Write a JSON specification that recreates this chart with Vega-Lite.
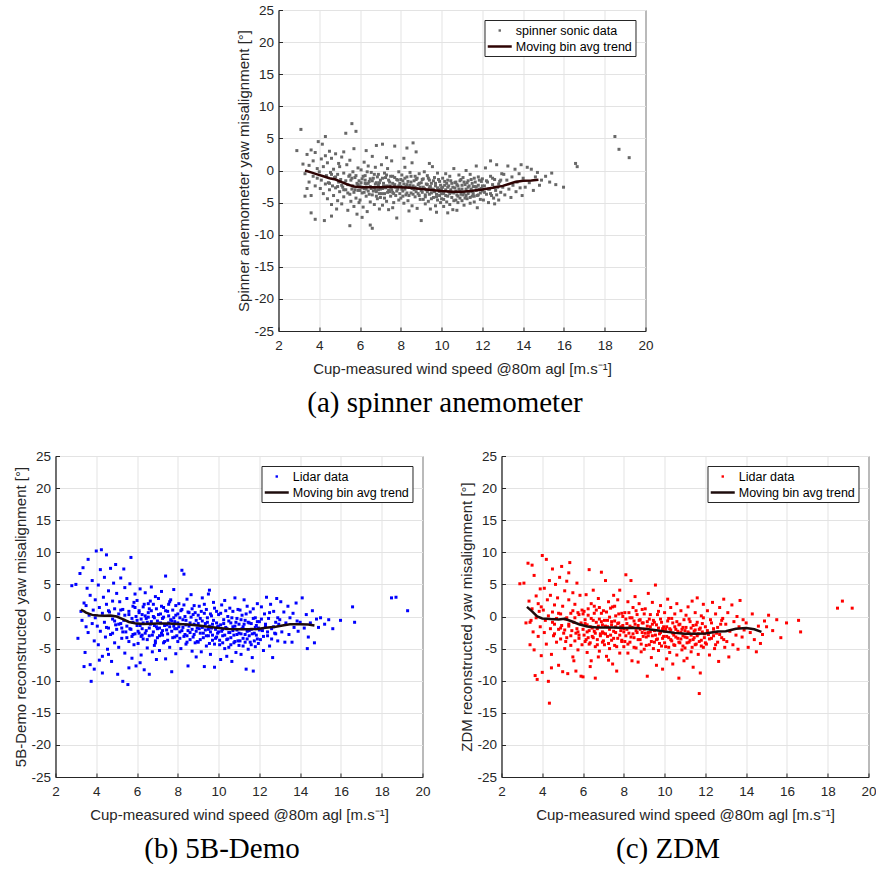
{
"$schema":"https://vega.github.io/schema/vega-lite/v6.json",
"padding":{"left":13,"top":2,"right":0,"bottom":0},
"background":"white",
"datasets":{
"a":[{"x":3.1,"y":6.4},{"x":2.9,"y":3.1},{"x":3.2,"y":1.0},{"x":3.3,"y":-0.5},{"x":3.4,"y":2.5},{"x":3.5,"y":-1.8},{"x":3.5,"y":0.8},{"x":3.6,"y":3.2},{"x":3.6,"y":-3.9},{"x":3.7,"y":1.5},{"x":3.7,"y":-0.9},{"x":3.8,"y":2.8},{"x":3.8,"y":-2.4},{"x":3.9,"y":0.3},{"x":3.9,"y":-1.2},{"x":3.95,"y":4.5},{"x":3.3,"y":-4.0},{"x":3.6,"y":-6.6},{"x":3.8,"y":-7.6},{"x":3.4,"y":-2.8},
{"x":4.0,"y":-0.2},{"x":4.05,"y":-2.8},{"x":4.1,"y":1.8},{"x":4.1,"y":-1.5},{"x":4.15,"y":4.1},{"x":4.2,"y":-3.6},{"x":4.2,"y":0.6},{"x":4.25,"y":-7.8},{"x":4.3,"y":-2.1},{"x":4.3,"y":2.3},{"x":4.35,"y":-0.8},{"x":4.4,"y":-4.4},{"x":4.4,"y":1.2},{"x":4.45,"y":-1.9},{"x":4.5,"y":3.0},{"x":4.5,"y":-3.0},{"x":4.55,"y":-0.3},{"x":4.6,"y":-5.3},{"x":4.6,"y":1.9},{"x":4.65,"y":-2.4},{"x":4.7,"y":0.2},{"x":4.7,"y":-3.9},{"x":4.75,"y":-1.1},{"x":4.8,"y":2.6},{"x":4.8,"y":-2.7},{"x":4.85,"y":-6.0},{"x":4.9,"y":-0.6},{"x":4.9,"y":-4.7},{"x":4.95,"y":1.1},{"x":4.95,"y":-1.8},{"x":4.3,"y":5.3},{"x":4.6,"y":-7.1},
{"x":5.0,"y":-3.3},{"x":5.0,"y":0.6},{"x":5.05,"y":-1.4},{"x":5.1,"y":-5.2},{"x":5.1,"y":2.1},{"x":5.15,"y":-2.6},{"x":5.2,"y":-0.4},{"x":5.2,"y":-4.1},{"x":5.25,"y":-1.9},{"x":5.3,"y":5.8},{"x":5.3,"y":-3.0},{"x":5.35,"y":0.9},{"x":5.4,"y":-6.2},{"x":5.4,"y":-2.2},{"x":5.45,"y":-0.9},{"x":5.5,"y":-3.7},{"x":5.5,"y":1.6},{"x":5.55,"y":-4.8},{"x":5.55,"y":-1.5},{"x":5.6,"y":7.3},{"x":5.6,"y":-2.9},{"x":5.65,"y":-0.2},{"x":5.7,"y":-5.6},{"x":5.7,"y":-3.4},{"x":5.75,"y":-1.1},{"x":5.8,"y":6.1},{"x":5.8,"y":-4.3},{"x":5.85,"y":-2.0},{"x":5.9,"y":0.4},{"x":5.9,"y":-3.1},{"x":5.95,"y":-5.0},{"x":5.95,"y":-1.6},{"x":5.2,"y":2.9},{"x":5.5,"y":-8.6},{"x":5.7,"y":3.4},{"x":5.85,"y":-6.8},
{"x":6.0,"y":-2.4},{"x":6.0,"y":-4.6},{"x":6.05,"y":0.1},{"x":6.1,"y":-3.5},{"x":6.1,"y":-1.3},{"x":6.15,"y":-5.7},{"x":6.2,"y":-2.8},{"x":6.2,"y":1.3},{"x":6.25,"y":-0.8},{"x":6.3,"y":-4.0},{"x":6.3,"y":-2.1},{"x":6.35,"y":-6.4},{"x":6.4,"y":-3.2},{"x":6.4,"y":0.7},{"x":6.45,"y":-1.7},{"x":6.5,"y":-4.9},{"x":6.5,"y":-2.5},{"x":6.55,"y":-0.3},{"x":6.6,"y":-3.8},{"x":6.6,"y":-9.0},{"x":6.65,"y":-1.2},{"x":6.7,"y":-5.3},{"x":6.7,"y":-2.7},{"x":6.75,"y":0.5},{"x":6.8,"y":-3.3},{"x":6.8,"y":-1.9},{"x":6.85,"y":-4.4},{"x":6.9,"y":-0.6},{"x":6.9,"y":-2.3},{"x":6.95,"y":-6.0},{"x":6.95,"y":-3.6},{"x":6.3,"y":3.1},{"x":6.6,"y":2.2},{"x":6.8,"y":3.9},{"x":6.1,"y":-7.3},{"x":6.5,"y":-8.5},{"x":6.75,"y":-3.0},{"x":6.25,"y":-2.0},
{"x":7.0,"y":-1.5},{"x":7.0,"y":-4.2},{"x":7.05,"y":0.9},{"x":7.1,"y":-2.8},{"x":7.1,"y":-5.4},{"x":7.15,"y":-2.0},{"x":7.2,"y":-3.6},{"x":7.2,"y":-0.4},{"x":7.25,"y":-1.1},{"x":7.3,"y":-4.8},{"x":7.3,"y":-2.4},{"x":7.35,"y":0.3},{"x":7.4,"y":-3.1},{"x":7.4,"y":-6.1},{"x":7.45,"y":-1.8},{"x":7.5,"y":-2.6},{"x":7.5,"y":-4.0},{"x":7.55,"y":1.5},{"x":7.6,"y":-3.4},{"x":7.6,"y":-0.9},{"x":7.65,"y":-5.0},{"x":7.7,"y":-2.2},{"x":7.7,"y":3.8},{"x":7.75,"y":-3.9},{"x":7.8,"y":-1.4},{"x":7.8,"y":-7.4},{"x":7.85,"y":-2.9},{"x":7.9,"y":-0.2},{"x":7.9,"y":-4.6},{"x":7.95,"y":-2.0},{"x":7.3,"y":2.0},{"x":7.6,"y":-5.8},{"x":7.1,"y":4.1},{"x":7.45,"y":-3.3},
{"x":8.0,"y":-2.5},{"x":8.0,"y":-4.3},{"x":8.05,"y":-0.7},{"x":8.1,"y":-3.2},{"x":8.1,"y":-1.6},{"x":8.15,"y":-5.1},{"x":8.2,"y":-2.9},{"x":8.2,"y":0.5},{"x":8.25,"y":-3.8},{"x":8.3,"y":-1.0},{"x":8.3,"y":-2.2},{"x":8.35,"y":-4.7},{"x":8.4,"y":-6.3},{"x":8.4,"y":-2.6},{"x":8.45,"y":-0.3},{"x":8.5,"y":-3.5},{"x":8.5,"y":-1.8},{"x":8.55,"y":-5.5},{"x":8.6,"y":-2.4},{"x":8.6,"y":4.3},{"x":8.65,"y":-3.0},{"x":8.7,"y":-0.9},{"x":8.7,"y":-4.1},{"x":8.75,"y":-1.4},{"x":8.8,"y":-2.8},{"x":8.8,"y":-5.9},{"x":8.85,"y":-3.6},{"x":8.9,"y":-0.5},{"x":8.9,"y":-2.0},{"x":8.95,"y":-4.5},{"x":8.3,"y":3.5},{"x":8.55,"y":1.2},{"x":8.75,"y":2.9},{"x":8.15,"y":1.9},
{"x":9.0,"y":-3.1},{"x":9.0,"y":-7.8},{"x":9.05,"y":-1.4},{"x":9.1,"y":-4.5},{"x":9.1,"y":-2.6},{"x":9.15,"y":-0.2},{"x":9.2,"y":-3.8},{"x":9.2,"y":-5.2},{"x":9.25,"y":-2.1},{"x":9.3,"y":-3.3},{"x":9.3,"y":-0.8},{"x":9.35,"y":-4.8},{"x":9.4,"y":-2.7},{"x":9.4,"y":-1.5},{"x":9.45,"y":-6.0},{"x":9.5,"y":-3.5},{"x":9.5,"y":-2.0},{"x":9.55,"y":0.6},{"x":9.6,"y":-4.2},{"x":9.6,"y":-3.0},{"x":9.65,"y":-1.1},{"x":9.7,"y":-5.5},{"x":9.7,"y":-2.4},{"x":9.75,"y":-3.7},{"x":9.8,"y":-0.4},{"x":9.8,"y":-4.6},{"x":9.85,"y":-2.9},{"x":9.9,"y":-1.7},{"x":9.9,"y":-3.9},{"x":9.95,"y":-5.0},{"x":9.4,"y":1.1},{"x":9.75,"y":-6.5},
{"x":10.0,"y":-2.8},{"x":10.0,"y":-4.4},{"x":10.05,"y":-1.2},{"x":10.1,"y":-3.6},{"x":10.1,"y":-5.6},{"x":10.15,"y":-2.3},{"x":10.2,"y":-0.5},{"x":10.2,"y":-3.9},{"x":10.25,"y":-4.9},{"x":10.3,"y":-2.6},{"x":10.3,"y":-1.5},{"x":10.35,"y":-3.3},{"x":10.4,"y":-5.3},{"x":10.4,"y":-0.9},{"x":10.45,"y":-3.0},{"x":10.5,"y":-4.2},{"x":10.5,"y":-2.0},{"x":10.55,"y":-6.1},{"x":10.6,"y":-3.5},{"x":10.6,"y":0.3},{"x":10.65,"y":-2.7},{"x":10.7,"y":-4.6},{"x":10.7,"y":-1.8},{"x":10.75,"y":-3.8},{"x":10.8,"y":-5.0},{"x":10.8,"y":-2.4},{"x":10.85,"y":-0.7},{"x":10.9,"y":-3.2},{"x":10.9,"y":-4.3},{"x":10.95,"y":-1.4},{"x":10.3,"y":-6.6},{"x":10.75,"y":-6.2},
{"x":11.0,"y":-2.9},{"x":11.0,"y":-4.7},{"x":11.05,"y":-1.1},{"x":11.1,"y":-3.5},{"x":11.1,"y":-5.4},{"x":11.15,"y":-2.2},{"x":11.2,"y":0.0},{"x":11.2,"y":-3.9},{"x":11.25,"y":-4.4},{"x":11.3,"y":-2.6},{"x":11.3,"y":-1.6},{"x":11.35,"y":-3.3},{"x":11.4,"y":-5.1},{"x":11.4,"y":-0.6},{"x":11.45,"y":-2.9},{"x":11.5,"y":-4.0},{"x":11.5,"y":-2.0},{"x":11.55,"y":-3.6},{"x":11.6,"y":-1.2},{"x":11.6,"y":-4.9},{"x":11.65,"y":-2.5},{"x":11.7,"y":0.7},{"x":11.7,"y":-3.1},{"x":11.75,"y":-5.8},{"x":11.8,"y":-2.3},{"x":11.8,"y":-3.8},{"x":11.85,"y":-1.5},{"x":11.9,"y":-4.5},{"x":11.95,"y":-2.8},
{"x":12.0,"y":-3.2},{"x":12.0,"y":-1.3},{"x":12.05,"y":-4.6},{"x":12.1,"y":-2.4},{"x":12.15,"y":0.4},{"x":12.2,"y":-3.7},{"x":12.25,"y":-1.8},{"x":12.3,"y":-5.0},{"x":12.35,"y":-2.9},{"x":12.4,"y":-0.9},{"x":12.45,"y":-3.9},{"x":12.5,"y":-2.2},{"x":12.55,"y":-4.3},{"x":12.6,"y":-1.4},{"x":12.65,"y":-3.1},{"x":12.7,"y":0.9},{"x":12.75,"y":-2.6},{"x":12.8,"y":-4.6},{"x":12.85,"y":-1.7},{"x":12.9,"y":-3.4},{"x":12.95,"y":-0.5},{"x":12.4,"y":1.5},{"x":12.6,"y":-5.2},
{"x":13.0,"y":-2.6},{"x":13.05,"y":-0.6},{"x":13.1,"y":-3.8},{"x":13.2,"y":-1.5},{"x":13.25,"y":0.7},{"x":13.3,"y":-2.9},{"x":13.4,"y":-4.2},{"x":13.45,"y":-1.0},{"x":13.5,"y":-2.3},{"x":13.6,"y":0.2},{"x":13.65,"y":-3.3},{"x":13.7,"y":-1.8},{"x":13.8,"y":-0.5},{"x":13.85,"y":-2.7},{"x":13.9,"y":0.9},{"x":13.95,"y":-3.9},
{"x":14.0,"y":-1.2},{"x":14.1,"y":-2.6},{"x":14.2,"y":0.5},{"x":14.3,"y":-1.9},{"x":14.4,"y":0.2},{"x":14.5,"y":-3.1},{"x":14.6,"y":-1.0},{"x":14.7,"y":-0.3},{"x":14.8,"y":-2.3},{"x":14.9,"y":-1.5},
{"x":15.1,"y":-0.9},{"x":15.3,"y":-1.8},{"x":15.4,"y":-0.4},{"x":15.6,"y":-2.2},{"x":15.98,"y":-2.6},{"x":16.57,"y":1.1},{"x":16.65,"y":0.6},{"x":18.5,"y":5.3},{"x":18.7,"y":3.3},{"x":19.2,"y":2.0},
{"x":5.6,"y":-1.2},{"x":5.65,"y":-2.4},{"x":5.75,"y":-3.0},{"x":5.8,"y":-0.8},{"x":5.9,"y":-2.2},{"x":6.0,"y":-3.1},{"x":6.05,"y":-1.9},{"x":6.1,"y":-2.6},{"x":6.15,"y":-0.9},{"x":6.2,"y":-3.4},{"x":6.25,"y":-1.5},{"x":6.3,"y":-2.9},{"x":6.35,"y":-0.2},{"x":6.4,"y":-2.0},{"x":6.45,"y":-3.7},{"x":6.5,"y":-1.3},{"x":6.55,"y":-2.8},{"x":6.6,"y":-1.6},{"x":6.65,"y":-3.2},{"x":6.7,"y":-0.6},{"x":6.75,"y":-2.1},{"x":6.8,"y":-4.0},{"x":6.85,"y":-1.0},{"x":6.9,"y":-3.0},{"x":6.95,"y":-1.9},{"x":7.0,"y":-2.9},{"x":7.05,"y":-3.6},{"x":7.1,"y":-1.2},{"x":7.15,"y":-2.5},{"x":7.2,"y":-4.3},{"x":7.25,"y":-2.7},{"x":7.3,"y":-0.7},{"x":7.35,"y":-3.4},{"x":7.4,"y":-1.5},{"x":7.45,"y":-2.4},{"x":7.5,"y":-0.9},{"x":7.55,"y":-3.0},{"x":7.6,"y":-2.0},{"x":7.65,"y":-3.6},{"x":7.7,"y":-1.1},{"x":7.75,"y":-2.6},{"x":7.8,"y":-3.2},{"x":7.85,"y":-1.5},{"x":7.9,"y":-2.4},{"x":7.95,"y":-3.6},{"x":8.0,"y":-1.4},{"x":8.05,"y":-2.9},{"x":8.1,"y":-4.0},{"x":8.15,"y":-2.1},{"x":8.2,"y":-1.2},{"x":8.25,"y":-2.5},{"x":8.3,"y":-3.5},{"x":8.35,"y":-1.7},{"x":8.4,"y":-3.9},{"x":8.45,"y":-2.3},{"x":8.5,"y":-0.9},{"x":8.55,"y":-2.8},{"x":8.6,"y":-3.7},{"x":8.65,"y":-1.6},{"x":8.7,"y":-2.6},{"x":8.75,"y":-3.3},{"x":8.8,"y":-1.2},{"x":8.85,"y":-2.2},{"x":8.9,"y":-3.9},{"x":8.95,"y":-2.6},{"x":9.0,"y":-1.9},{"x":9.05,"y":-3.4},{"x":9.1,"y":-1.3},{"x":9.15,"y":-2.8},{"x":9.2,"y":-4.1},{"x":9.25,"y":-3.0},{"x":9.3,"y":-2.2},{"x":9.35,"y":-1.2},{"x":9.4,"y":-3.7},{"x":9.45,"y":-2.5},{"x":9.5,"y":-4.4},{"x":9.55,"y":-2.9},{"x":9.6,"y":-1.6},{"x":9.65,"y":-3.3},{"x":9.7,"y":-2.0},{"x":9.75,"y":-4.1},{"x":9.8,"y":-2.7},{"x":9.85,"y":-1.4},{"x":9.9,"y":-3.3},{"x":9.95,"y":-2.3},{"x":10.0,"y":-3.6},{"x":10.05,"y":-2.6},{"x":10.1,"y":-4.5},{"x":10.15,"y":-1.7},{"x":10.2,"y":-3.0},{"x":10.25,"y":-2.0},{"x":10.3,"y":-4.0},{"x":10.35,"y":-2.4},{"x":10.4,"y":-3.6},{"x":10.45,"y":-1.6},{"x":10.5,"y":-3.4},{"x":10.55,"y":-2.6},{"x":10.6,"y":-4.7},{"x":10.65,"y":-1.9},{"x":10.7,"y":-3.2},{"x":10.75,"y":-2.2},{"x":10.8,"y":-4.0},{"x":10.85,"y":-2.9},{"x":10.9,"y":-1.6},{"x":10.95,"y":-3.7},{"x":11.0,"y":-2.3},{"x":11.05,"y":-3.8},{"x":11.1,"y":-1.8},{"x":11.15,"y":-4.3},{"x":11.2,"y":-2.9},{"x":11.25,"y":-1.9},{"x":11.3,"y":-3.6},{"x":11.35,"y":-2.4},{"x":11.4,"y":-4.2},{"x":11.45,"y":-1.4},{"x":11.5,"y":-3.3},{"x":11.55,"y":-2.5},{"x":11.6,"y":-4.0},{"x":11.65,"y":-1.8},{"x":11.7,"y":-2.6},{"x":11.75,"y":-3.9},{"x":11.8,"y":-1.0},{"x":11.85,"y":-2.9},{"x":11.9,"y":-3.5},{"x":11.95,"y":-1.7},{"x":12.0,"y":-2.4},{"x":12.1,"y":-3.4},{"x":12.2,"y":-1.6},{"x":12.3,"y":-2.9},{"x":12.4,"y":-3.6},{"x":12.5,"y":-1.2},{"x":12.6,"y":-2.6},{"x":12.7,"y":-3.8},{"x":12.8,"y":-2.1},{"x":12.9,"y":-1.5},{"x":5.3,"y":-1.6},{"x":5.4,"y":-3.5},{"x":5.5,"y":-0.7},{"x":5.1,"y":-2.3},{"x":5.2,"y":-3.0},{"x":4.9,"y":-2.5},{"x":4.8,"y":-1.0},{"x":4.6,"y":-0.6},{"x":4.5,"y":-2.0}],
"at":[{"x":3.3,"y":0.0},{"x":3.6,"y":-0.3},{"x":3.9,"y":-0.6},{"x":4.2,"y":-0.9},{"x":4.5,"y":-1.2},{"x":4.8,"y":-1.4},{"x":5.1,"y":-1.8},{"x":5.4,"y":-2.2},{"x":5.7,"y":-2.5},{"x":6.0,"y":-2.6},{"x":6.5,"y":-2.6},{"x":7.0,"y":-2.6},{"x":7.5,"y":-2.55},{"x":8.0,"y":-2.6},{"x":8.5,"y":-2.7},{"x":9.0,"y":-2.9},{"x":9.5,"y":-3.05},{"x":10.0,"y":-3.2},{"x":10.5,"y":-3.3},{"x":11.0,"y":-3.3},{"x":11.5,"y":-3.15},{"x":12.0,"y":-2.95},{"x":12.5,"y":-2.7},{"x":13.0,"y":-2.4},{"x":13.3,"y":-2.1},{"x":13.6,"y":-1.8},{"x":14.0,"y":-1.6},{"x":14.4,"y":-1.55},{"x":14.75,"y":-1.45}],
"b":[{"x":2.8,"y":4.8},{"x":3.0,"y":5.0},{"x":3.1,"y":-3.4},{"x":3.2,"y":6.7},{"x":3.25,"y":0.8},{"x":3.3,"y":-0.6},{"x":3.35,"y":7.6},{"x":3.4,"y":2.1},{"x":3.45,"y":-5.6},{"x":3.5,"y":-1.6},{"x":3.5,"y":1.7},{"x":3.55,"y":4.4},{"x":3.6,"y":-2.5},{"x":3.6,"y":8.9},{"x":3.65,"y":0.2},{"x":3.7,"y":-7.5},{"x":3.7,"y":3.3},{"x":3.75,"y":-10.1},{"x":3.8,"y":-1.1},{"x":3.8,"y":5.6},{"x":3.85,"y":1.0},{"x":3.9,"y":-3.8},{"x":3.9,"y":-8.2},{"x":3.95,"y":2.6},{"x":3.95,"y":-0.2},{"x":3.4,"y":-7.8},
{"x":4.0,"y":10.2},{"x":4.05,"y":-1.5},{"x":4.1,"y":4.9},{"x":4.1,"y":-4.4},{"x":4.15,"y":1.4},{"x":4.2,"y":7.3},{"x":4.2,"y":-2.3},{"x":4.25,"y":10.4},{"x":4.3,"y":0.5},{"x":4.3,"y":-6.2},{"x":4.35,"y":3.0},{"x":4.4,"y":-0.9},{"x":4.4,"y":6.1},{"x":4.45,"y":-3.2},{"x":4.5,"y":1.9},{"x":4.5,"y":9.6},{"x":4.55,"y":-5.1},{"x":4.6,"y":-1.8},{"x":4.6,"y":4.0},{"x":4.65,"y":0.7},{"x":4.7,"y":7.5},{"x":4.7,"y":-2.8},{"x":4.75,"y":-7.0},{"x":4.8,"y":2.4},{"x":4.8,"y":-0.4},{"x":4.85,"y":5.2},{"x":4.9,"y":-4.1},{"x":4.9,"y":1.2},{"x":4.95,"y":-1.3},{"x":4.95,"y":8.1},{"x":4.3,"y":-8.8},{"x":4.6,"y":-5.9},{"x":4.15,"y":-6.8},
{"x":5.0,"y":3.6},{"x":5.0,"y":-2.0},{"x":5.05,"y":-9.0},{"x":5.1,"y":0.4},{"x":5.1,"y":-4.8},{"x":5.15,"y":2.3},{"x":5.2,"y":-1.1},{"x":5.2,"y":6.0},{"x":5.25,"y":-3.4},{"x":5.3,"y":-10.1},{"x":5.3,"y":1.1},{"x":5.35,"y":-0.6},{"x":5.4,"y":4.5},{"x":5.4,"y":-5.7},{"x":5.45,"y":-2.4},{"x":5.5,"y":2.8},{"x":5.5,"y":-1.5},{"x":5.55,"y":-10.6},{"x":5.6,"y":0.3},{"x":5.6,"y":-3.9},{"x":5.65,"y":5.1},{"x":5.7,"y":-2.0},{"x":5.7,"y":9.2},{"x":5.75,"y":-6.5},{"x":5.8,"y":1.6},{"x":5.8,"y":-0.9},{"x":5.85,"y":-4.4},{"x":5.9,"y":3.5},{"x":5.9,"y":-2.7},{"x":5.95,"y":0.0},{"x":5.95,"y":-7.7},{"x":5.35,"y":7.4},{"x":5.6,"y":-8.0},{"x":5.85,"y":2.2},{"x":5.25,"y":-1.8},{"x":5.75,"y":-3.1},
{"x":6.0,"y":-1.4},{"x":6.0,"y":2.5},{"x":6.05,"y":-4.2},{"x":6.1,"y":0.6},{"x":6.1,"y":-2.6},{"x":6.15,"y":4.3},{"x":6.2,"y":-0.4},{"x":6.2,"y":-6.0},{"x":6.25,"y":-1.9},{"x":6.3,"y":1.5},{"x":6.3,"y":-3.5},{"x":6.35,"y":-8.3},{"x":6.4,"y":0.1},{"x":6.4,"y":3.7},{"x":6.45,"y":-2.2},{"x":6.5,"y":-4.9},{"x":6.5,"y":-0.9},{"x":6.55,"y":2.0},{"x":6.6,"y":-3.0},{"x":6.6,"y":-9.0},{"x":6.65,"y":-1.2},{"x":6.7,"y":4.6},{"x":6.7,"y":0.9},{"x":6.75,"y":-5.5},{"x":6.8,"y":-2.4},{"x":6.8,"y":1.9},{"x":6.85,"y":-0.2},{"x":6.9,"y":-3.8},{"x":6.9,"y":3.1},{"x":6.95,"y":-1.6},{"x":6.95,"y":-6.7},{"x":6.25,"y":-2.9},{"x":6.55,"y":-0.1},{"x":6.85,"y":-4.5},{"x":6.15,"y":-7.2},{"x":6.6,"y":1.2},
{"x":7.0,"y":-0.7},{"x":7.0,"y":-3.3},{"x":7.05,"y":2.8},{"x":7.1,"y":-1.8},{"x":7.1,"y":-5.3},{"x":7.15,"y":0.4},{"x":7.2,"y":-2.6},{"x":7.2,"y":3.9},{"x":7.25,"y":-0.3},{"x":7.3,"y":-4.1},{"x":7.3,"y":1.4},{"x":7.35,"y":-1.4},{"x":7.4,"y":-6.6},{"x":7.4,"y":6.3},{"x":7.45,"y":-2.1},{"x":7.5,"y":0.8},{"x":7.5,"y":-3.7},{"x":7.55,"y":-1.0},{"x":7.6,"y":2.3},{"x":7.6,"y":-4.8},{"x":7.65,"y":-0.5},{"x":7.7,"y":-8.6},{"x":7.7,"y":-2.3},{"x":7.75,"y":1.0},{"x":7.8,"y":-1.5},{"x":7.8,"y":4.2},{"x":7.85,"y":-3.2},{"x":7.9,"y":0.2},{"x":7.9,"y":-5.8},{"x":7.95,"y":-1.9},{"x":7.25,"y":-2.9},{"x":7.55,"y":1.9},{"x":7.85,"y":-0.8},
{"x":8.0,"y":-1.0},{"x":8.0,"y":-3.9},{"x":8.05,"y":2.0},{"x":8.1,"y":-2.4},{"x":8.1,"y":-0.2},{"x":8.15,"y":-5.0},{"x":8.2,"y":7.2},{"x":8.2,"y":1.1},{"x":8.25,"y":-1.7},{"x":8.3,"y":-3.1},{"x":8.3,"y":6.6},{"x":8.35,"y":0.0},{"x":8.4,"y":-4.3},{"x":8.4,"y":-1.3},{"x":8.45,"y":2.7},{"x":8.5,"y":-7.7},{"x":8.5,"y":-2.2},{"x":8.55,"y":0.6},{"x":8.6,"y":-3.6},{"x":8.6,"y":-1.0},{"x":8.65,"y":3.4},{"x":8.7,"y":-5.4},{"x":8.7,"y":-2.0},{"x":8.75,"y":0.3},{"x":8.8,"y":-2.8},{"x":8.8,"y":1.7},{"x":8.85,"y":-4.1},{"x":8.9,"y":-0.6},{"x":8.9,"y":-6.3},{"x":8.95,"y":-1.8},{"x":8.45,"y":-3.0},
{"x":9.0,"y":-1.1},{"x":9.0,"y":-4.0},{"x":9.05,"y":1.6},{"x":9.1,"y":-2.6},{"x":9.1,"y":-0.3},{"x":9.15,"y":-5.5},{"x":9.2,"y":2.9},{"x":9.2,"y":-1.7},{"x":9.25,"y":-3.3},{"x":9.3,"y":0.5},{"x":9.3,"y":-7.8},{"x":9.35,"y":-2.1},{"x":9.4,"y":-4.6},{"x":9.4,"y":1.1},{"x":9.45,"y":-0.9},{"x":9.5,"y":-3.0},{"x":9.5,"y":3.5},{"x":9.55,"y":-1.5},{"x":9.6,"y":-5.9},{"x":9.6,"y":-2.4},{"x":9.65,"y":0.1},{"x":9.7,"y":-3.7},{"x":9.7,"y":-1.2},{"x":9.75,"y":2.2},{"x":9.8,"y":-4.3},{"x":9.8,"y":-7.9},{"x":9.85,"y":-2.0},{"x":9.9,"y":0.8},{"x":9.9,"y":-3.2},{"x":9.95,"y":-1.6},{"x":9.55,"y":4.1},
{"x":10.0,"y":-2.4},{"x":10.0,"y":0.3},{"x":10.05,"y":-4.4},{"x":10.1,"y":-1.3},{"x":10.1,"y":-6.7},{"x":10.15,"y":1.8},{"x":10.2,"y":-3.0},{"x":10.2,"y":-2.0},{"x":10.25,"y":-0.5},{"x":10.3,"y":-5.0},{"x":10.3,"y":2.5},{"x":10.35,"y":-1.7},{"x":10.4,"y":-3.6},{"x":10.4,"y":-6.2},{"x":10.45,"y":0.0},{"x":10.5,"y":-2.5},{"x":10.5,"y":-4.8},{"x":10.55,"y":1.3},{"x":10.6,"y":-1.0},{"x":10.6,"y":-3.3},{"x":10.65,"y":-7.0},{"x":10.7,"y":-2.2},{"x":10.7,"y":0.8},{"x":10.75,"y":-4.1},{"x":10.8,"y":-1.5},{"x":10.8,"y":2.9},{"x":10.85,"y":-5.6},{"x":10.9,"y":-2.8},{"x":10.9,"y":-0.3},{"x":10.95,"y":-3.8},
{"x":11.0,"y":-1.2},{"x":11.0,"y":-4.5},{"x":11.05,"y":1.0},{"x":11.1,"y":-2.7},{"x":11.1,"y":-5.9},{"x":11.15,"y":0.2},{"x":11.2,"y":-3.4},{"x":11.2,"y":-1.6},{"x":11.25,"y":2.6},{"x":11.3,"y":-4.0},{"x":11.3,"y":-0.6},{"x":11.35,"y":-8.2},{"x":11.4,"y":-2.3},{"x":11.4,"y":1.6},{"x":11.45,"y":-5.1},{"x":11.5,"y":-1.0},{"x":11.5,"y":-3.0},{"x":11.55,"y":0.7},{"x":11.6,"y":-4.4},{"x":11.6,"y":-2.0},{"x":11.65,"y":-6.4},{"x":11.7,"y":-8.5},{"x":11.7,"y":1.2},{"x":11.75,"y":-2.6},{"x":11.8,"y":-0.2},{"x":11.8,"y":-4.7},{"x":11.85,"y":-1.4},{"x":11.9,"y":2.0},{"x":11.9,"y":-3.5},{"x":11.95,"y":-1.8},
{"x":12.0,"y":-0.8},{"x":12.05,"y":-3.6},{"x":12.1,"y":1.5},{"x":12.15,"y":-2.2},{"x":12.2,"y":-5.3},{"x":12.25,"y":0.4},{"x":12.3,"y":-1.5},{"x":12.35,"y":3.0},{"x":12.4,"y":-3.0},{"x":12.45,"y":-0.3},{"x":12.5,"y":-4.6},{"x":12.55,"y":1.9},{"x":12.6,"y":-1.9},{"x":12.65,"y":-6.4},{"x":12.7,"y":0.8},{"x":12.75,"y":-2.6},{"x":12.8,"y":-0.9},{"x":12.85,"y":2.8},{"x":12.9,"y":-3.8},{"x":12.95,"y":-1.2},
{"x":13.0,"y":-0.5},{"x":13.05,"y":2.3},{"x":13.1,"y":-2.4},{"x":13.2,"y":0.7},{"x":13.25,"y":-4.0},{"x":13.3,"y":-1.0},{"x":13.4,"y":1.6},{"x":13.45,"y":-2.8},{"x":13.5,"y":-0.2},{"x":13.6,"y":-4.0},{"x":13.65,"y":0.5},{"x":13.7,"y":-1.7},{"x":13.8,"y":2.1},{"x":13.85,"y":-0.7},{"x":13.9,"y":-2.3},
{"x":14.0,"y":-0.9},{"x":14.1,"y":2.9},{"x":14.2,"y":-1.8},{"x":14.3,"y":0.3},{"x":14.4,"y":-3.2},{"x":14.5,"y":-1.0},{"x":14.6,"y":0.9},{"x":14.7,"y":-4.1},{"x":14.8,"y":-0.4},{"x":14.9,"y":-1.7},{"x":14.35,"y":-5.0},
{"x":15.0,"y":-0.2},{"x":15.2,"y":-1.2},{"x":15.4,"y":-0.5},{"x":15.6,"y":-1.9},{"x":15.98,"y":-0.6},{"x":16.57,"y":1.5},{"x":16.67,"y":-0.9},{"x":18.48,"y":2.9},{"x":18.7,"y":3.0},{"x":19.27,"y":0.9},
{"x":5.6,"y":0.8},{"x":5.65,"y":-1.9},{"x":5.75,"y":-0.3},{"x":5.8,"y":-2.8},{"x":5.9,"y":1.4},{"x":6.0,"y":-0.6},{"x":6.05,"y":-2.3},{"x":6.1,"y":0.9},{"x":6.15,"y":-1.4},{"x":6.2,"y":-3.1},{"x":6.25,"y":0.3},{"x":6.3,"y":-1.0},{"x":6.35,"y":1.9},{"x":6.4,"y":-2.6},{"x":6.45,"y":-0.3},{"x":6.5,"y":-3.6},{"x":6.55,"y":0.6},{"x":6.6,"y":-1.8},{"x":6.65,"y":2.4},{"x":6.7,"y":-0.8},{"x":6.75,"y":-2.9},{"x":6.8,"y":0.0},{"x":6.85,"y":-1.4},{"x":6.9,"y":-4.1},{"x":6.95,"y":1.2},{"x":7.0,"y":-1.9},{"x":7.05,"y":0.3},{"x":7.1,"y":-3.0},{"x":7.15,"y":-1.0},{"x":7.2,"y":1.6},{"x":7.25,"y":-2.2},{"x":7.3,"y":-0.1},{"x":7.35,"y":-3.9},{"x":7.4,"y":0.9},{"x":7.45,"y":-1.3},{"x":7.5,"y":-2.7},{"x":7.55,"y":0.1},{"x":7.6,"y":-1.6},{"x":7.65,"y":2.6},{"x":7.7,"y":-0.7},{"x":7.75,"y":-3.3},{"x":7.8,"y":-0.2},{"x":7.85,"y":-1.9},{"x":7.9,"y":1.7},{"x":7.95,"y":-3.0},{"x":8.0,"y":0.4},{"x":8.05,"y":-1.6},{"x":8.1,"y":-3.4},{"x":8.15,"y":0.9},{"x":8.2,"y":-2.2},{"x":8.25,"y":-0.5},{"x":8.3,"y":1.8},{"x":8.35,"y":-2.8},{"x":8.4,"y":-0.6},{"x":8.45,"y":-4.0},{"x":8.5,"y":0.7},{"x":8.55,"y":-1.5},{"x":8.6,"y":-2.5},{"x":8.65,"y":-0.1},{"x":8.7,"y":1.2},{"x":8.75,"y":-3.2},{"x":8.8,"y":-1.2},{"x":8.85,"y":0.6},{"x":8.9,"y":-2.3},{"x":8.95,"y":-3.9},{"x":9.0,"y":0.2},{"x":9.05,"y":-1.9},{"x":9.1,"y":-3.6},{"x":9.15,"y":0.8},{"x":9.2,"y":-0.7},{"x":9.25,"y":-2.6},{"x":9.3,"y":1.9},{"x":9.35,"y":-1.1},{"x":9.4,"y":-3.0},{"x":9.45,"y":-0.2},{"x":9.5,"y":-2.0},{"x":9.55,"y":-4.2},{"x":9.6,"y":0.4},{"x":9.65,"y":-1.8},{"x":9.7,"y":-2.9},{"x":9.75,"y":-0.6},{"x":9.8,"y":1.3},{"x":9.85,"y":-3.4},{"x":9.9,"y":-1.0},{"x":9.95,"y":-2.6},{"x":10.0,"y":-1.5},{"x":10.05,"y":-3.7},{"x":10.1,"y":0.5},{"x":10.15,"y":-2.3},{"x":10.2,"y":-4.1},{"x":10.25,"y":-1.1},{"x":10.3,"y":-2.9},{"x":10.35,"y":0.9},{"x":10.4,"y":-1.9},{"x":10.45,"y":-3.5},{"x":10.5,"y":-0.7},{"x":10.55,"y":-2.5},{"x":10.6,"y":-4.4},{"x":10.65,"y":-0.2},{"x":10.7,"y":-1.6},{"x":10.75,"y":-2.9},{"x":10.8,"y":-3.9},{"x":10.85,"y":-0.9},{"x":10.9,"y":-2.1},{"x":10.95,"y":1.1},{"x":11.0,"y":-2.6},{"x":11.05,"y":-3.8},{"x":11.1,"y":-0.5},{"x":11.15,"y":-1.9},{"x":11.2,"y":-4.6},{"x":11.25,"y":-1.2},{"x":11.3,"y":-2.8},{"x":11.35,"y":0.4},{"x":11.4,"y":-3.5},{"x":11.45,"y":-0.9},{"x":11.5,"y":-2.2},{"x":11.55,"y":-4.0},{"x":11.6,"y":-1.1},{"x":11.65,"y":-2.7},{"x":11.7,"y":-0.3},{"x":11.75,"y":-3.8},{"x":11.8,"y":-1.7},{"x":11.85,"y":-2.9},{"x":11.9,"y":-0.8},{"x":11.95,"y":-4.2},{"x":12.0,"y":-2.1},{"x":12.1,"y":-0.4},{"x":12.2,"y":-3.1},{"x":12.3,"y":-1.2},{"x":12.4,"y":-2.4},{"x":12.5,"y":0.6},{"x":12.6,"y":-3.5},{"x":12.7,"y":-1.6},{"x":12.8,"y":-2.7},{"x":12.9,"y":-0.2},{"x":5.3,"y":-2.4},{"x":5.4,"y":0.2},{"x":5.5,"y":-3.3},{"x":5.1,"y":-1.2},{"x":5.2,"y":1.0},{"x":4.9,"y":-0.7},{"x":4.8,"y":-2.6},{"x":4.6,"y":0.9},{"x":4.5,"y":-1.7}],
"bt":[{"x":3.25,"y":1.1},{"x":3.5,"y":0.6},{"x":3.8,"y":0.25},{"x":4.1,"y":0.15},{"x":4.4,"y":0.1},{"x":4.7,"y":0.15},{"x":5.0,"y":0.0},{"x":5.3,"y":-0.4},{"x":5.6,"y":-0.85},{"x":5.9,"y":-1.05},{"x":6.3,"y":-1.15},{"x":7.0,"y":-1.1},{"x":7.5,"y":-1.1},{"x":8.0,"y":-1.15},{"x":8.5,"y":-1.25},{"x":9.0,"y":-1.4},{"x":9.5,"y":-1.6},{"x":10.0,"y":-1.8},{"x":10.5,"y":-1.95},{"x":11.0,"y":-2.0},{"x":11.5,"y":-2.0},{"x":11.9,"y":-1.95},{"x":12.3,"y":-1.75},{"x":12.8,"y":-1.6},{"x":13.2,"y":-1.35},{"x":13.5,"y":-1.2},{"x":14.0,"y":-1.2},{"x":14.4,"y":-1.25},{"x":14.7,"y":-1.4}],
"c":[{"x":2.9,"y":5.1},{"x":3.1,"y":5.2},{"x":3.2,"y":-1.0},{"x":3.3,"y":8.3},{"x":3.35,"y":2.4},{"x":3.4,"y":-4.4},{"x":3.45,"y":-0.6},{"x":3.5,"y":8.0},{"x":3.5,"y":1.2},{"x":3.55,"y":-2.4},{"x":3.6,"y":6.4},{"x":3.6,"y":-5.2},{"x":3.65,"y":-9.2},{"x":3.7,"y":3.2},{"x":3.7,"y":-0.2},{"x":3.75,"y":-9.8},{"x":3.8,"y":2.0},{"x":3.8,"y":-3.1},{"x":3.85,"y":0.8},{"x":3.9,"y":4.3},{"x":3.9,"y":-1.6},{"x":3.95,"y":-6.1},{"x":3.95,"y":1.5},{"x":3.4,"y":-0.9},
{"x":4.0,"y":9.5},{"x":4.0,"y":-8.7},{"x":4.05,"y":1.0},{"x":4.1,"y":-2.5},{"x":4.1,"y":4.4},{"x":4.15,"y":-0.6},{"x":4.2,"y":8.9},{"x":4.2,"y":-4.3},{"x":4.25,"y":2.6},{"x":4.3,"y":-10.1},{"x":4.3,"y":0.1},{"x":4.35,"y":-13.5},{"x":4.35,"y":5.6},{"x":4.4,"y":-1.9},{"x":4.4,"y":3.3},{"x":4.45,"y":-5.9},{"x":4.5,"y":0.7},{"x":4.5,"y":7.4},{"x":4.55,"y":-3.0},{"x":4.6,"y":1.8},{"x":4.6,"y":-1.2},{"x":4.65,"y":5.0},{"x":4.7,"y":-4.0},{"x":4.7,"y":-0.3},{"x":4.75,"y":2.9},{"x":4.8,"y":-7.6},{"x":4.8,"y":-2.0},{"x":4.85,"y":6.1},{"x":4.9,"y":0.4},{"x":4.9,"y":-3.5},{"x":4.95,"y":7.8},{"x":4.95,"y":-1.4},{"x":4.45,"y":-8.0},
{"x":5.0,"y":-8.6},{"x":5.0,"y":1.6},{"x":5.05,"y":-2.6},{"x":5.1,"y":4.0},{"x":5.1,"y":-5.0},{"x":5.15,"y":-0.4},{"x":5.2,"y":5.5},{"x":5.2,"y":-3.3},{"x":5.25,"y":-8.9},{"x":5.3,"y":2.6},{"x":5.3,"y":-1.5},{"x":5.35,"y":8.4},{"x":5.4,"y":-4.5},{"x":5.4,"y":0.5},{"x":5.45,"y":-2.2},{"x":5.5,"y":3.7},{"x":5.5,"y":-6.3},{"x":5.55,"y":-0.9},{"x":5.6,"y":1.9},{"x":5.6,"y":-3.8},{"x":5.65,"y":-8.5},{"x":5.7,"y":5.2},{"x":5.7,"y":-1.9},{"x":5.75,"y":-5.2},{"x":5.8,"y":0.3},{"x":5.8,"y":-2.9},{"x":5.85,"y":3.3},{"x":5.9,"y":-9.3},{"x":5.9,"y":-1.2},{"x":5.95,"y":-4.4},{"x":5.95,"y":1.0},{"x":5.3,"y":6.8},{"x":5.55,"y":-6.9},{"x":5.75,"y":-2.4},{"x":5.15,"y":-3.9},
{"x":6.0,"y":-2.0},{"x":6.0,"y":-9.4},{"x":6.05,"y":0.8},{"x":6.1,"y":-3.9},{"x":6.1,"y":-1.1},{"x":6.15,"y":3.4},{"x":6.2,"y":-5.6},{"x":6.2,"y":-2.4},{"x":6.25,"y":0.2},{"x":6.3,"y":-4.3},{"x":6.3,"y":7.3},{"x":6.35,"y":-1.6},{"x":6.4,"y":2.0},{"x":6.4,"y":-6.9},{"x":6.45,"y":-3.1},{"x":6.5,"y":-0.6},{"x":6.5,"y":4.1},{"x":6.55,"y":-2.3},{"x":6.6,"y":-9.6},{"x":6.6,"y":-4.7},{"x":6.65,"y":1.0},{"x":6.7,"y":-1.9},{"x":6.7,"y":-3.6},{"x":6.75,"y":2.8},{"x":6.8,"y":-0.4},{"x":6.8,"y":-5.4},{"x":6.85,"y":-2.7},{"x":6.9,"y":6.9},{"x":6.9,"y":0.5},{"x":6.95,"y":-4.0},{"x":6.95,"y":-1.3},{"x":6.35,"y":-7.8},{"x":6.55,"y":1.6},{"x":6.25,"y":-3.3},{"x":6.75,"y":-6.3},
{"x":7.0,"y":-2.6},{"x":7.0,"y":0.9},{"x":7.05,"y":-4.4},{"x":7.1,"y":-1.5},{"x":7.1,"y":5.6},{"x":7.15,"y":-6.2},{"x":7.2,"y":-0.6},{"x":7.2,"y":-3.1},{"x":7.25,"y":2.3},{"x":7.3,"y":-2.0},{"x":7.3,"y":-5.0},{"x":7.35,"y":1.3},{"x":7.4,"y":-3.7},{"x":7.4,"y":-0.8},{"x":7.45,"y":-7.4},{"x":7.5,"y":3.3},{"x":7.5,"y":-2.3},{"x":7.55,"y":-4.5},{"x":7.6,"y":0.1},{"x":7.6,"y":-1.6},{"x":7.65,"y":-8.5},{"x":7.7,"y":2.6},{"x":7.7,"y":-3.4},{"x":7.75,"y":-1.0},{"x":7.8,"y":-5.7},{"x":7.8,"y":4.1},{"x":7.85,"y":-2.2},{"x":7.9,"y":0.5},{"x":7.9,"y":-3.9},{"x":7.95,"y":-1.4},{"x":7.25,"y":-6.8},{"x":7.55,"y":1.6},
{"x":8.0,"y":-1.9},{"x":8.0,"y":-4.7},{"x":8.05,"y":0.6},{"x":8.1,"y":-3.0},{"x":8.1,"y":6.5},{"x":8.15,"y":-1.1},{"x":8.2,"y":-5.7},{"x":8.2,"y":2.3},{"x":8.25,"y":-2.6},{"x":8.3,"y":-0.2},{"x":8.3,"y":-4.0},{"x":8.35,"y":5.6},{"x":8.4,"y":-1.7},{"x":8.4,"y":-6.9},{"x":8.45,"y":1.4},{"x":8.5,"y":-3.3},{"x":8.5,"y":-0.7},{"x":8.55,"y":3.1},{"x":8.6,"y":-2.2},{"x":8.6,"y":-4.9},{"x":8.65,"y":0.3},{"x":8.7,"y":-7.1},{"x":8.7,"y":-1.4},{"x":8.75,"y":2.0},{"x":8.8,"y":-3.6},{"x":8.8,"y":-0.5},{"x":8.85,"y":-5.5},{"x":8.9,"y":1.1},{"x":8.9,"y":-2.5},{"x":8.95,"y":-1.0},
{"x":9.0,"y":-2.0},{"x":9.0,"y":-5.1},{"x":9.05,"y":1.2},{"x":9.1,"y":-3.2},{"x":9.15,"y":-9.3},{"x":9.15,"y":-0.8},{"x":9.2,"y":3.6},{"x":9.2,"y":-2.5},{"x":9.25,"y":-4.4},{"x":9.3,"y":0.3},{"x":9.3,"y":-1.6},{"x":9.35,"y":-6.4},{"x":9.4,"y":-3.0},{"x":9.4,"y":2.2},{"x":9.45,"y":-0.6},{"x":9.5,"y":-4.0},{"x":9.5,"y":-2.2},{"x":9.55,"y":4.9},{"x":9.6,"y":-7.6},{"x":9.6,"y":-1.3},{"x":9.65,"y":-3.5},{"x":9.7,"y":0.8},{"x":9.7,"y":-5.3},{"x":9.75,"y":-2.7},{"x":9.8,"y":1.7},{"x":9.8,"y":-0.4},{"x":9.85,"y":-4.6},{"x":9.9,"y":-1.9},{"x":9.9,"y":-8.2},{"x":9.95,"y":-3.1},
{"x":10.0,"y":-2.3},{"x":10.0,"y":0.6},{"x":10.05,"y":-4.7},{"x":10.1,"y":-1.6},{"x":10.1,"y":-6.6},{"x":10.15,"y":2.7},{"x":10.2,"y":-3.3},{"x":10.2,"y":-0.3},{"x":10.25,"y":-5.6},{"x":10.3,"y":-2.1},{"x":10.3,"y":1.4},{"x":10.35,"y":-3.8},{"x":10.4,"y":-7.4},{"x":10.4,"y":-1.0},{"x":10.45,"y":-2.9},{"x":10.5,"y":-4.5},{"x":10.5,"y":0.4},{"x":10.55,"y":-2.0},{"x":10.6,"y":-6.0},{"x":10.6,"y":2.0},{"x":10.65,"y":-3.4},{"x":10.7,"y":-1.3},{"x":10.7,"y":-9.6},{"x":10.75,"y":-4.1},{"x":10.8,"y":-2.5},{"x":10.8,"y":0.9},{"x":10.85,"y":-5.2},{"x":10.9,"y":-3.0},{"x":10.9,"y":-1.7},{"x":10.95,"y":-6.9},
{"x":11.0,"y":-2.2},{"x":11.0,"y":-4.9},{"x":11.05,"y":0.2},{"x":11.1,"y":-3.3},{"x":11.1,"y":-6.5},{"x":11.15,"y":1.5},{"x":11.2,"y":-2.6},{"x":11.2,"y":-4.0},{"x":11.25,"y":-0.8},{"x":11.3,"y":-5.5},{"x":11.3,"y":-1.8},{"x":11.35,"y":2.4},{"x":11.4,"y":-3.6},{"x":11.4,"y":-7.9},{"x":11.45,"y":-2.3},{"x":11.5,"y":0.6},{"x":11.5,"y":-4.4},{"x":11.55,"y":-1.3},{"x":11.6,"y":-3.0},{"x":11.6,"y":2.9},{"x":11.65,"y":-5.9},{"x":11.7,"y":-12.0},{"x":11.7,"y":-2.0},{"x":11.75,"y":-8.8},{"x":11.8,"y":0.1},{"x":11.8,"y":-3.7},{"x":11.85,"y":-1.1},{"x":11.9,"y":-4.8},{"x":11.9,"y":1.9},{"x":11.95,"y":-2.7},
{"x":12.0,"y":-1.6},{"x":12.05,"y":-4.3},{"x":12.1,"y":0.9},{"x":12.15,"y":-2.8},{"x":12.2,"y":-6.0},{"x":12.25,"y":-0.5},{"x":12.3,"y":-3.4},{"x":12.35,"y":2.2},{"x":12.4,"y":-1.9},{"x":12.45,"y":-5.0},{"x":12.5,"y":0.4},{"x":12.55,"y":-2.6},{"x":12.6,"y":-4.0},{"x":12.65,"y":-7.0},{"x":12.7,"y":1.4},{"x":12.75,"y":-1.2},{"x":12.8,"y":-3.3},{"x":12.85,"y":-0.3},{"x":12.9,"y":2.7},{"x":12.95,"y":-4.8},{"x":12.4,"y":-2.4},
{"x":13.0,"y":-1.2},{"x":13.05,"y":-3.9},{"x":13.1,"y":0.6},{"x":13.15,"y":-6.3},{"x":13.2,"y":-2.3},{"x":13.3,"y":1.8},{"x":13.35,"y":-4.4},{"x":13.4,"y":-0.8},{"x":13.5,"y":-2.9},{"x":13.55,"y":0.0},{"x":13.6,"y":-5.1},{"x":13.65,"y":-1.6},{"x":13.7,"y":2.5},{"x":13.8,"y":-3.2},{"x":13.85,"y":-0.5},{"x":13.9,"y":-2.1},
{"x":14.0,"y":-1.0},{"x":14.1,"y":-4.8},{"x":14.2,"y":-2.5},{"x":14.3,"y":0.4},{"x":14.4,"y":-3.6},{"x":14.5,"y":-5.5},{"x":14.6,"y":-1.5},{"x":14.7,"y":-4.2},{"x":14.8,"y":-2.8},{"x":14.9,"y":-0.7},
{"x":15.0,"y":-1.6},{"x":15.1,"y":0.2},{"x":15.3,"y":-2.2},{"x":15.5,"y":-0.5},{"x":15.7,"y":-3.3},{"x":15.98,"y":-1.0},{"x":16.57,"y":-0.6},{"x":16.67,"y":-2.4},{"x":18.48,"y":1.3},{"x":18.72,"y":2.4},{"x":19.2,"y":1.3},
{"x":5.6,"y":-0.2},{"x":5.65,"y":-2.6},{"x":5.75,"y":0.6},{"x":5.8,"y":-3.4},{"x":5.9,"y":-1.0},{"x":6.0,"y":0.4},{"x":6.05,"y":-2.9},{"x":6.1,"y":-0.5},{"x":6.15,"y":-3.6},{"x":6.2,"y":-1.3},{"x":6.25,"y":1.2},{"x":6.3,"y":-2.2},{"x":6.35,"y":-4.1},{"x":6.4,"y":-0.3},{"x":6.45,"y":-1.8},{"x":6.5,"y":-3.3},{"x":6.55,"y":0.5},{"x":6.6,"y":-2.6},{"x":6.65,"y":-0.9},{"x":6.7,"y":-4.4},{"x":6.75,"y":-1.5},{"x":6.8,"y":1.4},{"x":6.85,"y":-3.0},{"x":6.9,"y":-0.8},{"x":6.95,"y":-2.4},{"x":7.0,"y":-3.8},{"x":7.05,"y":-0.6},{"x":7.1,"y":-2.7},{"x":7.15,"y":0.7},{"x":7.2,"y":-1.6},{"x":7.25,"y":-4.2},{"x":7.3,"y":-0.1},{"x":7.35,"y":-2.9},{"x":7.4,"y":-1.3},{"x":7.45,"y":1.5},{"x":7.5,"y":-3.4},{"x":7.55,"y":-0.7},{"x":7.6,"y":-2.5},{"x":7.65,"y":-4.7},{"x":7.7,"y":-1.1},{"x":7.75,"y":0.4},{"x":7.8,"y":-2.9},{"x":7.85,"y":-1.6},{"x":7.9,"y":-3.7},{"x":7.95,"y":0.0},{"x":8.0,"y":-2.4},{"x":8.05,"y":-3.9},{"x":8.1,"y":-0.4},{"x":8.15,"y":-2.0},{"x":8.2,"y":-4.3},{"x":8.25,"y":0.6},{"x":8.3,"y":-1.5},{"x":8.35,"y":-3.2},{"x":8.4,"y":-0.2},{"x":8.45,"y":-2.7},{"x":8.5,"y":-4.8},{"x":8.55,"y":-1.2},{"x":8.6,"y":0.9},{"x":8.65,"y":-2.5},{"x":8.7,"y":-3.6},{"x":8.75,"y":-0.6},{"x":8.8,"y":-2.0},{"x":8.85,"y":-4.3},{"x":8.9,"y":-1.0},{"x":8.95,"y":-3.1},{"x":9.0,"y":0.4},{"x":9.05,"y":-2.6},{"x":9.1,"y":-4.5},{"x":9.15,"y":-1.5},{"x":9.2,"y":-3.0},{"x":9.25,"y":-0.4},{"x":9.3,"y":-2.4},{"x":9.35,"y":-3.9},{"x":9.4,"y":-1.2},{"x":9.45,"y":-5.0},{"x":9.5,"y":-0.9},{"x":9.55,"y":-2.9},{"x":9.6,"y":-3.6},{"x":9.65,"y":0.3},{"x":9.7,"y":-1.8},{"x":9.75,"y":-4.2},{"x":9.8,"y":-2.5},{"x":9.85,"y":-0.9},{"x":9.9,"y":-3.4},{"x":9.95,"y":-1.6},{"x":10.0,"y":-4.1},{"x":10.05,"y":-2.0},{"x":10.1,"y":-3.1},{"x":10.15,"y":-0.7},{"x":10.2,"y":-4.8},{"x":10.25,"y":-1.9},{"x":10.3,"y":-3.6},{"x":10.35,"y":-0.3},{"x":10.4,"y":-2.6},{"x":10.45,"y":-4.4},{"x":10.5,"y":-1.6},{"x":10.55,"y":-3.2},{"x":10.6,"y":-0.8},{"x":10.65,"y":-2.3},{"x":10.7,"y":-4.0},{"x":10.75,"y":-1.2},{"x":10.8,"y":-3.5},{"x":10.85,"y":-2.0},{"x":10.9,"y":-4.6},{"x":10.95,"y":-0.5},{"x":11.0,"y":-3.2},{"x":11.05,"y":-1.7},{"x":11.1,"y":-4.1},{"x":11.15,"y":-2.4},{"x":11.2,"y":-0.4},{"x":11.25,"y":-3.7},{"x":11.3,"y":-2.9},{"x":11.35,"y":-4.8},{"x":11.4,"y":-1.4},{"x":11.45,"y":-3.3},{"x":11.5,"y":-2.1},{"x":11.55,"y":-4.3},{"x":11.6,"y":-0.9},{"x":11.65,"y":-2.7},{"x":11.7,"y":-3.9},{"x":11.75,"y":-1.8},{"x":11.8,"y":-4.6},{"x":11.85,"y":-2.4},{"x":11.9,"y":-0.2},{"x":11.95,"y":-3.3},{"x":12.0,"y":-4.1},{"x":12.1,"y":-2.2},{"x":12.2,"y":-3.5},{"x":12.3,"y":-1.0},{"x":12.4,"y":-3.0},{"x":12.5,"y":-4.4},{"x":12.6,"y":-1.7},{"x":12.7,"y":-2.8},{"x":12.8,"y":-0.6},{"x":12.9,"y":-3.6},{"x":5.3,"y":-1.2},{"x":5.4,"y":-3.0},{"x":5.5,"y":0.9},{"x":5.1,"y":-2.1},{"x":5.2,"y":-0.2},{"x":4.9,"y":-1.8},{"x":4.8,"y":0.5},{"x":4.6,"y":-2.7},{"x":4.5,"y":-0.9}],
"ct":[{"x":3.25,"y":1.5},{"x":3.5,"y":0.8},{"x":3.75,"y":0.0},{"x":4.0,"y":-0.3},{"x":4.4,"y":-0.4},{"x":4.8,"y":-0.45},{"x":5.1,"y":-0.35},{"x":5.4,"y":-0.7},{"x":5.8,"y":-1.2},{"x":6.2,"y":-1.55},{"x":6.7,"y":-1.7},{"x":7.5,"y":-1.7},{"x":8.0,"y":-1.8},{"x":8.5,"y":-1.75},{"x":9.0,"y":-1.9},{"x":9.5,"y":-2.1},{"x":10.0,"y":-2.35},{"x":10.5,"y":-2.55},{"x":11.0,"y":-2.7},{"x":11.5,"y":-2.7},{"x":12.0,"y":-2.65},{"x":12.3,"y":-2.5},{"x":12.6,"y":-2.35},{"x":13.0,"y":-2.3},{"x":13.5,"y":-1.9},{"x":14.0,"y":-1.8},{"x":14.4,"y":-2.0},{"x":14.75,"y":-2.4}]
},
"vconcat":[
{"width":367,"height":321,
 "title":{"text":"(a) spinner anemometer"},
 "encoding":{
  "x":{"field":"x","type":"quantitative","scale":{"domain":[2,20],"nice":false},"axis":{"values":[2,4,6,8,10,12,14,16,18,20],"title":"Cup-measured wind speed @80m agl [m.s⁻¹]"}},
  "y":{"field":"y","type":"quantitative","scale":{"domain":[-25,25],"nice":false},"axis":{"values":[-25,-20,-15,-10,-5,0,5,10,15,20,25],"title":"Spinner anemometer yaw misalignment [°]","labelExpr":"'' + datum.value"}}
 },
 "layer":[
  {"data":{"name":"a"},"mark":{"type":"point","filled":true,"size":225,"opacity":1,"strokeWidth":2.5},
   "encoding":{
    "color":{"datum":"spinner sonic data","type":"nominal","scale":{"domain":["spinner sonic data","Moving bin avg trend"],"range":["#686868","#2e0303"]},"legend":{"title":null}},
    "shape":{"datum":"spinner sonic data","type":"nominal","scale":{"domain":["spinner sonic data","Moving bin avg trend"],"range":["M-0.2,-0.2H0.2V0.2H-0.2Z","M-2,0H2"]},"legend":{"title":null}},
    "stroke":{"datum":"spinner sonic data","type":"nominal","scale":{"domain":["spinner sonic data","Moving bin avg trend"],"range":["transparent","#2e0303"]},"legend":{"title":null}}}},
  {"data":{"name":"at"},"mark":{"type":"line","strokeWidth":2.5,"color":"#2e0303"},"encoding":{}}
 ]},
{"hconcat":[
 {"width":367,"height":321,
  "title":{"text":"(b) 5B-Demo"},
  "encoding":{
   "x":{"field":"x","type":"quantitative","scale":{"domain":[2,20],"nice":false},"axis":{"values":[2,4,6,8,10,12,14,16,18,20],"title":"Cup-measured wind speed @80m agl [m.s⁻¹]"}},
   "y":{"field":"y","type":"quantitative","scale":{"domain":[-25,25],"nice":false},"axis":{"values":[-25,-20,-15,-10,-5,0,5,10,15,20,25],"title":"5B-Demo reconstructed yaw misalignment [°]","labelExpr":"'' + datum.value"}}
  },
  "layer":[
   {"data":{"name":"b"},"mark":{"type":"point","filled":true,"size":225,"opacity":1,"strokeWidth":2.5},
    "encoding":{
     "color":{"datum":"Lidar data","type":"nominal","scale":{"domain":["Lidar data","Moving bin avg trend"],"range":["#0000ff","#1e0c0c"]},"legend":{"title":null}},
     "shape":{"datum":"Lidar data","type":"nominal","scale":{"domain":["Lidar data","Moving bin avg trend"],"range":["M-0.2,-0.2H0.2V0.2H-0.2Z","M-2,0H2"]},"legend":{"title":null}},
     "stroke":{"datum":"Lidar data","type":"nominal","scale":{"domain":["Lidar data","Moving bin avg trend"],"range":["transparent","#1e0c0c"]},"legend":{"title":null}}}},
   {"data":{"name":"bt"},"mark":{"type":"line","strokeWidth":2.5,"color":"#1e0c0c"},"encoding":{}}
  ]},
 {"width":367,"height":321,
  "title":{"text":"(c) ZDM"},
  "encoding":{
   "x":{"field":"x","type":"quantitative","scale":{"domain":[2,20],"nice":false},"axis":{"values":[2,4,6,8,10,12,14,16,18,20],"title":"Cup-measured wind speed @80m agl [m.s⁻¹]"}},
   "y":{"field":"y","type":"quantitative","scale":{"domain":[-25,25],"nice":false},"axis":{"values":[-25,-20,-15,-10,-5,0,5,10,15,20,25],"title":"ZDM reconstructed yaw misalignment [°]","labelExpr":"'' + datum.value"}}
  },
  "layer":[
   {"data":{"name":"c"},"mark":{"type":"point","filled":true,"size":225,"opacity":1,"strokeWidth":2.5},
    "encoding":{
     "color":{"datum":"Lidar data","type":"nominal","scale":{"domain":["Lidar data","Moving bin avg trend"],"range":["#ff0000","#1e0c0c"]},"legend":{"title":null}},
     "shape":{"datum":"Lidar data","type":"nominal","scale":{"domain":["Lidar data","Moving bin avg trend"],"range":["M-0.2,-0.2H0.2V0.2H-0.2Z","M-2,0H2"]},"legend":{"title":null}},
     "stroke":{"datum":"Lidar data","type":"nominal","scale":{"domain":["Lidar data","Moving bin avg trend"],"range":["transparent","#1e0c0c"]},"legend":{"title":null}}}},
   {"data":{"name":"ct"},"mark":{"type":"line","strokeWidth":2.5,"color":"#1e0c0c"},"encoding":{}}
  ]}
 ],
 "spacing":27,
 "resolve":{"scale":{"color":"independent","shape":"independent","stroke":"independent","x":"independent","y":"independent"},"legend":{"color":"independent","shape":"independent","stroke":"independent"}}
}
],
"spacing":30,
"center":true,
"resolve":{"scale":{"color":"independent","shape":"independent","stroke":"independent","x":"independent","y":"independent"},"legend":{"color":"independent","shape":"independent","stroke":"independent"}},
"config":{
 "font":"Liberation Sans",
 "view":{"stroke":"#262626","strokeWidth":1},
 "axis":{"labelFont":"Liberation Sans","labelFontSize":13.5,"labelColor":"#262626","titleFont":"Liberation Sans","titleFontSize":15,"titleFontWeight":"normal","titleColor":"#262626","domainColor":"#262626","gridColor":"#e3e3e3","tickColor":"#262626","ticks":true,"tickSize":-4,"labelPadding":9,"titlePadding":2,"labelOverlap":false},
 "axisX":{"labelFlush":false,"labelPadding":11,"titlePadding":10},
 "legend":{"orient":"top-right","offset":10,"padding":3,"strokeColor":"#262626","fillColor":"white","labelFont":"Liberation Sans","labelFontSize":12.5,"labelColor":"black","symbolSize":144,"symbolStrokeWidth":2.5,"symbolOffset":4.75,"rowPadding":2,"labelOffset":8.5},
 "title":{"font":"Liberation Serif","fontSize":29,"fontWeight":"normal","color":"black","orient":"bottom","anchor":"middle","frame":"bounds","offset":12}
}
}
